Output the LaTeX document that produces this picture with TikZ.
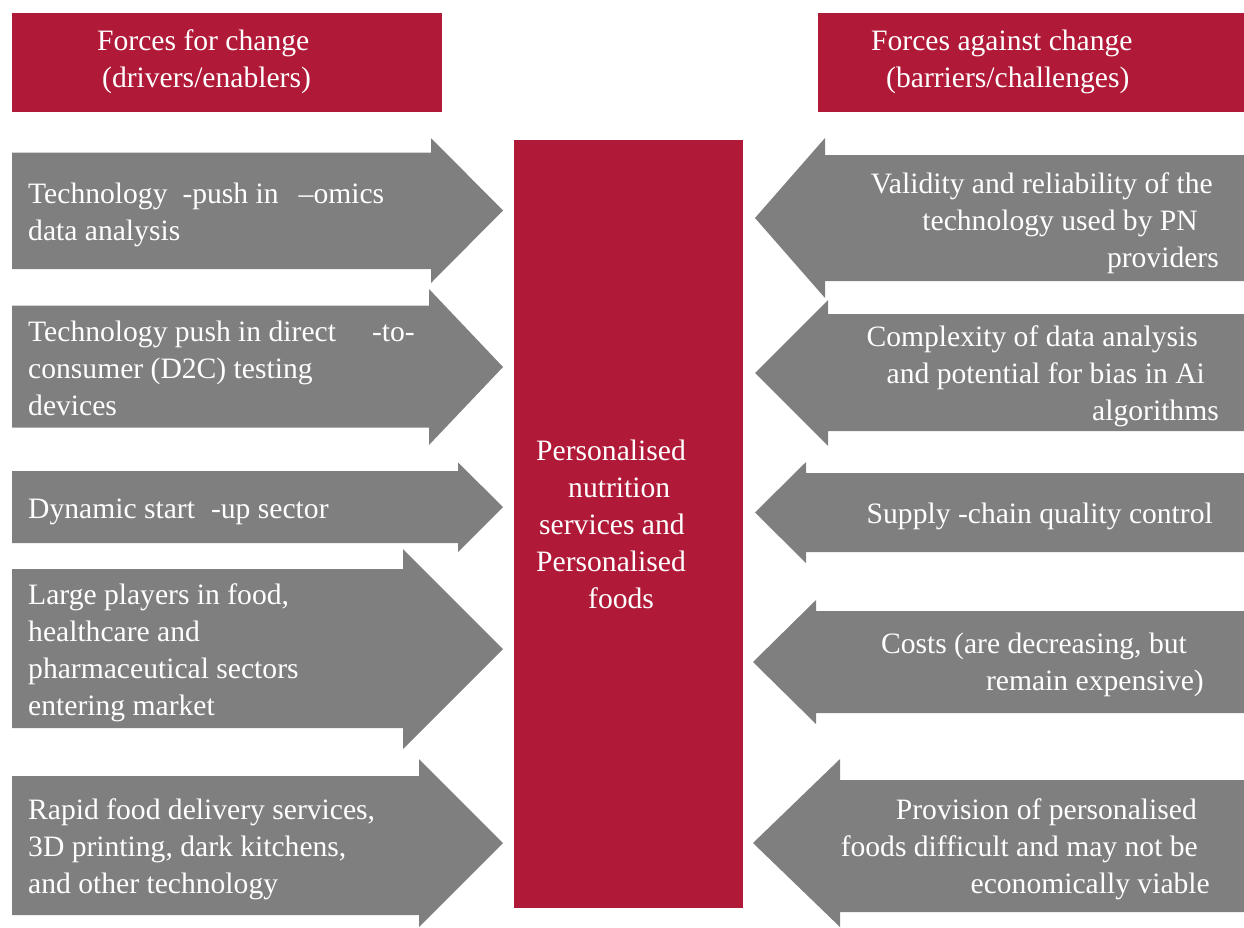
\documentclass[tikz,border=0pt]{standalone}
\usepackage{fontspec}
\setmainfont{Liberation Serif}
\definecolor{fcred}{RGB}{176,26,56}
\definecolor{fcgray}{RGB}{127,127,127}
\newcommand{\trail}[1]{\hbox{\kern#1}}
\begin{document}
\begin{tikzpicture}[x=1pt,y=-1pt,
  redbox/.style={fill=fcred},
  grayarrow/.style={fill=fcgray},
  txt/.style={inner sep=0pt,text=white,font=\fontsize{29.6}{37}\selectfont},
  ltxt/.style={txt,anchor=base west,align=left},
  rtxt/.style={txt,anchor=base east,align=right}]
\useasboundingbox (0,0) rectangle (1244,927);
% headers
\fill[redbox] (12,13) rectangle (442,112);
\fill[redbox] (818,13) rectangle (1244,112);
\node[ltxt] (hl) at (97,87) {Forces for change\\\hspace*{5pt}(drivers/enablers)};
\node[ltxt] (hr) at (871,87) {Forces against change\\\hspace*{15pt}(barriers/challenges)};
% centre
\fill[redbox] (514,140) rectangle (743,908);
\node[ltxt] (c) at (536,608) {Personalised\\\hspace*{32pt}nutrition\\\hspace*{3pt}services and\\Personalised\\\hspace*{52pt}foods};
% left arrows
\fill[grayarrow] (12,152.5) -- (431,152.5) -- (431,138) -- (503,210.5) -- (431,283) -- (431,269) -- (12,269) -- cycle;
\fill[grayarrow] (12,305.5) -- (429,305.5) -- (429,289) -- (503,367) -- (429,445) -- (429,427.5) -- (12,427.5) -- cycle;
\fill[grayarrow] (12,471) -- (458,471) -- (458,462.5) -- (503,507) -- (458,552) -- (458,543) -- (12,543) -- cycle;
\fill[grayarrow] (12,569) -- (403,569) -- (403,549) -- (503,649) -- (403,749) -- (403,728) -- (12,728) -- cycle;
\fill[grayarrow] (12,776) -- (419,776) -- (419,759) -- (503,843) -- (419,927) -- (419,915) -- (12,915) -- cycle;
% right arrows
\fill[grayarrow] (1244,155) -- (825,155) -- (825,138) -- (755,218) -- (825,298) -- (825,281) -- (1244,281) -- cycle;
\fill[grayarrow] (1244,314) -- (828,314) -- (828,300) -- (755,373) -- (828,446) -- (828,431) -- (1244,431) -- cycle;
\fill[grayarrow] (1244,473) -- (806,473) -- (806,462) -- (755,512.5) -- (806,563) -- (806,552) -- (1244,552) -- cycle;
\fill[grayarrow] (1244,611) -- (816,611) -- (816,600) -- (753,662) -- (816,724) -- (816,713) -- (1244,713) -- cycle;
\fill[grayarrow] (1244,780) -- (840,780) -- (840,759) -- (753,843) -- (840,927) -- (840,912) -- (1244,912) -- cycle;
% left texts
\node[ltxt] (l1) at (28,240) {Technology\hspace{15pt}-push in\hspace{20pt}–omics\\data analysis};
\node[ltxt] (l2) at (28,415) {Technology push in direct\hspace{36pt}-to-\\consumer (D2C) testing\\devices};
\node[ltxt] (l3) at (28,518) {Dynamic start\hspace{16pt}-up sector};
\node[ltxt] (l4) at (28,715) {Large players in food,\\healthcare and\\pharmaceutical sectors\\entering market};
\node[ltxt] (l5) at (28,893) {Rapid food delivery services,\\3D printing, dark kitchens,\\and other technology};
% right texts
\node[rtxt] (r1) at (1219,267) {Validity and reliability of the\trail{6pt}\\technology used by PN\trail{21pt}\\providers};
\node[rtxt] (r2) at (1219,420) {Complexity of data analysis\trail{21pt}\\and potential for bias in Ai\trail{14pt}\\algorithms};
\node[rtxt] (r3) at (1219,523) {Supply -chain quality control\trail{6pt}};
\node[rtxt] (r4) at (1219,690) {Costs (are decreasing, but\trail{32pt}\\remain expensive)\trail{15pt}};
\node[rtxt] (r5) at (1219,893) {Provision of personalised\trail{22pt}\\foods difficult and may not be\trail{21pt}\\economically viable\trail{9pt}};
\end{tikzpicture}
\end{document}
